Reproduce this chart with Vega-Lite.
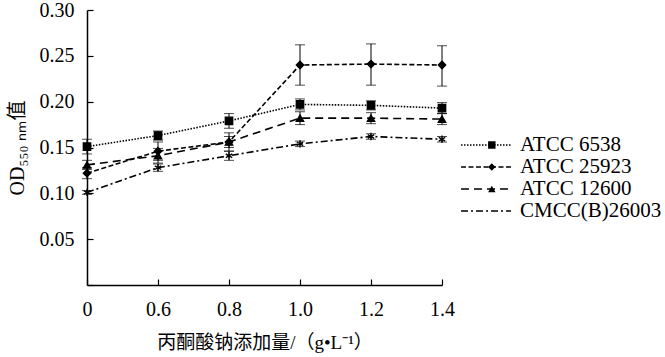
{
  "$schema": "https://vega.github.io/schema/vega-lite/v6.json",
  "width": 355,
  "height": 275,
  "autosize": {"type": "none"},
  "padding": {"left": 87, "top": 10, "right": 223, "bottom": 72},
  "background": "white",
  "config": {
    "view": {"stroke": null},
    "font": "Liberation Serif, Noto Sans CJK SC",
    "axis": {
      "grid": false,
      "domainColor": "black",
      "domainWidth": 1.5,
      "tickColor": "black",
      "tickWidth": 1.2,
      "labelColor": "black",
      "titleColor": "black",
      "labelFont": "Liberation Serif",
      "labelFontSize": 20,
      "titleFontWeight": "normal",
      "titleFontSize": 19,
      "titleFont": "Liberation Serif, Noto Sans CJK SC"
    },
    "legend": {"padding": 0}
  },
  "data": {
    "values": [
      {"series": "ATCC 6538", "x": "0", "y": 0.151, "lo": 0.143, "hi": 0.159},
      {"series": "ATCC 6538", "x": "0.6", "y": 0.163, "lo": 0.158, "hi": 0.168},
      {"series": "ATCC 6538", "x": "0.8", "y": 0.179, "lo": 0.171, "hi": 0.187},
      {"series": "ATCC 6538", "x": "1.0", "y": 0.197, "lo": 0.191, "hi": 0.203},
      {"series": "ATCC 6538", "x": "1.2", "y": 0.196, "lo": 0.191, "hi": 0.201},
      {"series": "ATCC 6538", "x": "1.4", "y": 0.193, "lo": 0.187, "hi": 0.199},
      {"series": "ATCC 25923", "x": "0", "y": 0.122, "lo": 0.116, "hi": 0.128},
      {"series": "ATCC 25923", "x": "0.6", "y": 0.146, "lo": 0.136, "hi": 0.156},
      {"series": "ATCC 25923", "x": "0.8", "y": 0.156, "lo": 0.146, "hi": 0.166},
      {"series": "ATCC 25923", "x": "1.0", "y": 0.240, "lo": 0.218, "hi": 0.262},
      {"series": "ATCC 25923", "x": "1.2", "y": 0.241, "lo": 0.218, "hi": 0.263},
      {"series": "ATCC 25923", "x": "1.4", "y": 0.240, "lo": 0.217, "hi": 0.261},
      {"series": "ATCC 12600", "x": "0", "y": 0.131, "lo": 0.126, "hi": 0.136},
      {"series": "ATCC 12600", "x": "0.6", "y": 0.141, "lo": 0.133, "hi": 0.149},
      {"series": "ATCC 12600", "x": "0.8", "y": 0.156, "lo": 0.150, "hi": 0.162},
      {"series": "ATCC 12600", "x": "1.0", "y": 0.182, "lo": 0.175, "hi": 0.189},
      {"series": "ATCC 12600", "x": "1.2", "y": 0.182, "lo": 0.176, "hi": 0.188},
      {"series": "ATCC 12600", "x": "1.4", "y": 0.181, "lo": 0.175, "hi": 0.187},
      {"series": "CMCC(B)26003", "x": "0", "y": 0.101, "lo": 0.099, "hi": 0.103},
      {"series": "CMCC(B)26003", "x": "0.6", "y": 0.128, "lo": 0.124, "hi": 0.132},
      {"series": "CMCC(B)26003", "x": "0.8", "y": 0.141, "lo": 0.136, "hi": 0.146},
      {"series": "CMCC(B)26003", "x": "1.0", "y": 0.154, "lo": 0.151, "hi": 0.157},
      {"series": "CMCC(B)26003", "x": "1.2", "y": 0.162, "lo": 0.159, "hi": 0.165},
      {"series": "CMCC(B)26003", "x": "1.4", "y": 0.159, "lo": 0.156, "hi": 0.162}
    ]
  },
  "encoding": {
    "x": {
      "field": "x",
      "type": "ordinal",
      "sort": ["0", "0.6", "0.8", "1.0", "1.2", "1.4"],
      "scale": {"type": "point", "padding": 0},
      "axis": {
        "title": "丙酮酸钠添加量/（g•L⁻¹）",
        "labelAngle": 0,
        "tickSize": -6,
        "labelPadding": 20,
        "titlePadding": 14
      }
    },
    "y": {
      "type": "quantitative",
      "scale": {"domain": [0, 0.3], "nice": false, "zero": true},
      "axis": {
        "title": "OD₅₅₀ ₙₘ值",
        "titleFontSize": 20,
        "values": [0, 0.05, 0.1, 0.15, 0.2, 0.25, 0.3],
        "labelExpr": "datum.value == 0 ? '' : format(datum.value, '.2f')",
        "tickSize": -6,
        "labelPadding": 19,
        "titlePadding": 12
      }
    }
  },
  "layer": [
    {
      "mark": {"type": "rule", "color": "black", "strokeWidth": 1},
      "encoding": {
        "y": {"field": "lo", "type": "quantitative"},
        "y2": {"field": "hi"},
        "detail": {"field": "series"}
      }
    },
    {
      "mark": {"type": "tick", "color": "black", "size": 10, "thickness": 1},
      "encoding": {"y": {"field": "lo", "type": "quantitative"}}
    },
    {
      "mark": {"type": "tick", "color": "black", "size": 10, "thickness": 1},
      "encoding": {"y": {"field": "hi", "type": "quantitative"}}
    },
    {
      "mark": {"type": "line", "color": "black", "strokeWidth": 1.6},
      "encoding": {
        "y": {"field": "y", "type": "quantitative"},
        "strokeDash": {
          "field": "series",
          "type": "nominal",
          "sort": ["ATCC 6538", "ATCC 25923", "ATCC 12600", "CMCC(B)26003"],
          "scale": {
            "domain": ["ATCC 6538", "ATCC 25923", "ATCC 12600", "CMCC(B)26003"],
            "range": [[1.5, 1.5], [5, 2.5], [8, 5], [7, 3, 2, 3]]
          },
          "legend": {
            "orient": "none",
            "legendX": 373,
            "legendY": 124,
            "title": null,
            "symbolType": "stroke",
            "symbolSize": 2500,
            "symbolStrokeColor": "black",
            "symbolStrokeWidth": 1.6,
            "labelFont": "Liberation Serif",
            "labelFontSize": 21,
            "labelColor": "black",
            "labelOffset": 8,
            "clipHeight": 22,
            "rowPadding": 0
          }
        }
      }
    },
    {
      "mark": {"type": "point", "filled": true, "color": "black", "stroke": "black", "strokeWidth": 1.3, "size": 55, "opacity": 1},
      "encoding": {
        "y": {"field": "y", "type": "quantitative"},
        "shape": {
          "field": "series",
          "type": "nominal",
          "sort": ["ATCC 6538", "ATCC 25923", "ATCC 12600", "CMCC(B)26003"],
          "scale": {
            "domain": ["ATCC 6538", "ATCC 25923", "ATCC 12600", "CMCC(B)26003"],
            "range": ["square", "diamond", "triangle-up", "M0,-1V1M-0.87,-0.5L0.87,0.5M-0.87,0.5L0.87,-0.5"]
          },
          "legend": {
            "orient": "none",
            "legendX": 373,
            "legendY": 124,
            "title": null,
            "symbolSize": 55,
            "symbolOffset": 21.3,
            "symbolFillColor": "black",
            "symbolStrokeColor": "black",
            "symbolStrokeWidth": 1.3,
            "labelFont": "Liberation Serif",
            "labelFontSize": 21,
            "labelExpr": "''",
            "labelOffset": 8,
            "clipHeight": 22,
            "rowPadding": 0
          }
        }
      }
    }
  ],
  "resolve": {"legend": {"shape": "independent", "strokeDash": "independent"}}
}
